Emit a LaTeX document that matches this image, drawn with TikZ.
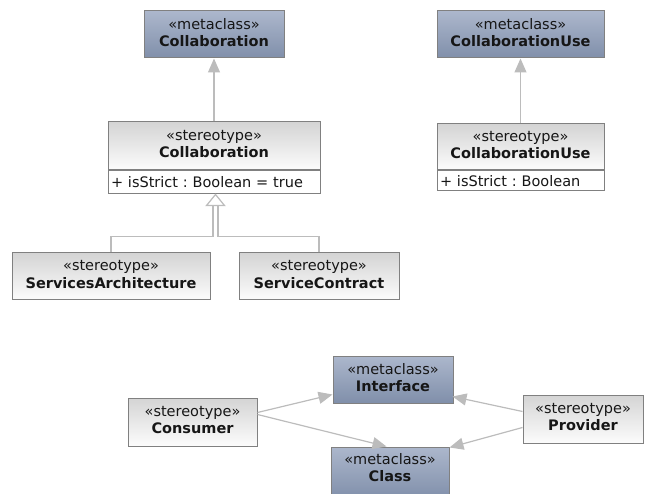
\documentclass[tikz,border=0pt]{standalone}
\usepackage{fontspec}
\setmainfont{DejaVu Sans}
\usetikzlibrary{arrows.meta,calc}
\frenchspacing

\definecolor{metaTop}{RGB}{172,183,204}
\definecolor{metaBot}{RGB}{128,143,170}
\definecolor{stereoTop}{RGB}{212,212,212}
\definecolor{stereoBot}{RGB}{252,252,252}
\definecolor{frame}{RGB}{128,128,128}
\definecolor{link}{RGB}{188,188,188}
\definecolor{ink}{RGB}{22,22,22}

% fixed line strut so every two-line heading sits at the same height
\newcommand{\hdstrut}{\rule[-4pt]{0pt}{13pt}}
\newcommand{\twoline}[2]{\hdstrut #1\\\hdstrut\textbf{#2}}

\tikzset{
  box/.style={draw=frame, line width=1pt, inner sep=0pt, align=center,
              text=ink, font=\fontsize{14.5}{17.5}\selectfont},
  meta/.style={box, top color=metaTop, bottom color=metaBot},
  stereo/.style={box, top color=stereoTop, bottom color=stereoBot},
  attr/.style={draw=frame, line width=1pt, fill=white, anchor=north,
               inner xsep=3pt, inner ysep=0pt, align=left, text=ink,
               font=\fontsize{14.5}{17.5}\selectfont},
  ext/.style={draw=link, line width=1.2pt,
              -{Triangle[length=14pt,width=12pt]}},
  gen/.style={draw=link, line width=1.2pt},
}

\begin{document}
\begin{tikzpicture}[x=1pt,y=-1pt]
  \useasboundingbox (0,0) rectangle (645,494);

  % metaclasses
  \node[meta, minimum width=140pt, minimum height=47pt] (mcC) at (214,34.5)
       {\twoline{«metaclass»}{Collaboration}};
  \node[meta, minimum width=167pt, minimum height=47pt] (mcCU) at (520.5,34.5)
       {\twoline{«metaclass»}{CollaborationUse}};

  % stereotypes with an attribute compartment
  \node[stereo, minimum width=212pt, minimum height=48pt] (stC) at (214,146)
       {\twoline{«stereotype»}{Collaboration}};
  \node[attr, minimum height=23pt, text width=206pt] (stCattr) at (stC.south)
       {+ isStrict : Boolean = true};

  \node[stereo, minimum width=167pt, minimum height=46pt] (stCU) at (520.5,147)
       {\twoline{«stereotype»}{CollaborationUse}};
  \node[attr, minimum height=20pt, text width=161pt] (stCUattr) at (stCU.south)
       {+ isStrict : Boolean};

  % specialised stereotypes
  \node[stereo, minimum width=198pt, minimum height=47pt] (sa) at (111,276.5)
       {\twoline{«stereotype»}{ServicesArchitecture}};
  \node[stereo, minimum width=160pt, minimum height=47pt] (sc) at (319,276.5)
       {\twoline{«stereotype»}{ServiceContract}};

  % consumer / provider group
  \node[stereo, minimum width=129pt, minimum height=48pt] (cons) at (192.5,422)
       {\twoline{«stereotype»}{Consumer}};
  \node[meta, minimum width=120pt, minimum height=47pt] (iface) at (393,379.5)
       {\twoline{«metaclass»}{Interface}};
  % Class runs past the lower page edge
  \node[meta, minimum width=118pt, minimum height=52pt] (class) at (390,473)
       {\hdstrut«metaclass»\\\rule[-11.5pt]{0pt}{13pt}\textbf{Class}};
  \node[stereo, minimum width=120pt, minimum height=48pt] (prov) at (583,419)
       {\twoline{«stereotype»}{Provider}};

  % extensions
  \draw[ext] (stC.north) -- (mcC.south);
  \draw[ext] (stCU.north) -- (mcCU.south);

  % generalizations into Collaboration
  \coordinate (gtip) at ($(stCattr.south)+(1.5,0)$);
  \draw[gen] (sa.north) |- ($(gtip)+(-2.5,42)$) -- ($(gtip)+(-2.5,10)$);
  \draw[gen] (sc.north) |- ($(gtip)+(2.5,42)$) -- ($(gtip)+(2.5,10)$);
  \draw[gen, fill=white, line join=miter] (gtip) -- ++(-9,11) -- ++(18,0) -- cycle;

  % extensions of the consumer and provider
  \draw[ext] ($(cons.north east)+(0,15)$) -- ($(iface.north west)+(0,39)$);
  \draw[ext] ($(cons.north east)+(0,17)$) -- ($(class.north west)+(56,0)$);
  \draw[ext] ($(prov.north west)+(0,17)$) -- ($(iface.north east)+(-1,41)$);
  \draw[ext] ($(prov.north west)+(0,33)$) -- ($(class.north east)+(0,1)$);
\end{tikzpicture}
\end{document}
